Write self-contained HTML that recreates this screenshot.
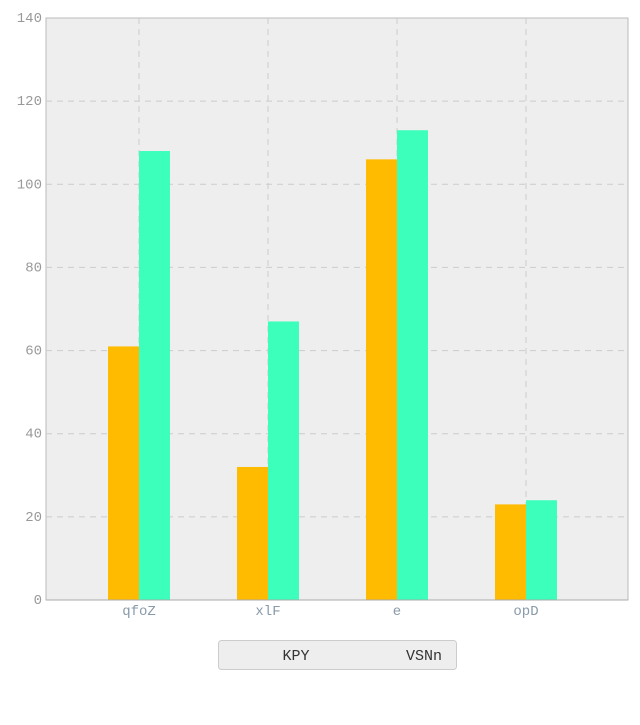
<!DOCTYPE html>
<html><head><meta charset="utf-8"><style>
body{margin:0;background:#fff;width:640px;height:720px;overflow:hidden;font-family:"Liberation Mono",monospace}
</style></head><body>
<svg id="chart" width="640" height="720" xmlns="http://www.w3.org/2000/svg"></svg>
<script>
const categories=["qfoZ","xlF","e","opD"];
const seriesNames=["KPY","VSNn"];
const seriesKPY=[61,32,106,23];
const seriesVSNn=[108,67,113,24];
const yTicks=[0,20,40,60,80,100,120,140];
const colors=["#FFBB00","#3BFFBA"];
const L=46,R=628,T=18,B=600,yMax=140;
const y=v=>B-(v/yMax)*(B-T);
const xc=i=>L+93+i*129;
const bw=31;
const NS="http://www.w3.org/2000/svg";
const svg=document.getElementById('chart');
function mk(tag,attrs,parent){const e=document.createElementNS(NS,tag);for(const k in attrs)e.setAttribute(k,attrs[k]);(parent||svg).appendChild(e);return e;}
const bg=mk('rect',{x:L,y:T,width:R-L,height:B-T,fill:'#EEEEEE',stroke:'#BBBBBB'});


yTicks.forEach(t=>{
  if(t>0&&t<yMax){const g=mk('line',{x1:L,x2:R,y1:y(t),y2:y(t),stroke:'#CCCCCC','stroke-dasharray':'6,5'});
  
  }
  const tx=mk('text',{x:L-4,y:y(t)+4,'text-anchor':'end','font-size':'14',fill:'#999999'});
  tx.textContent=t;
  
  
});
categories.forEach((c,i)=>{
  const g=mk('line',{x1:xc(i),x2:xc(i),y1:T,y2:B,stroke:'#CCCCCC','stroke-dasharray':'6,5'});
  
  
  [seriesKPY,seriesVSNn].forEach((s,k)=>{
    const b=mk('rect',{x:k===0?xc(i)-bw:xc(i),y:y(s[i]),width:bw,height:B-y(s[i]),fill:colors[k]});
    
    
  });
  const tx=mk('text',{x:xc(i),y:B+15,'text-anchor':'middle','font-size':'14',fill:'#8899AA'});
  tx.textContent=c;
  
  
});
const ax=mk('line',{x1:L,x2:R,y1:B,y2:B,stroke:'#AAAAAA'});


const lg=mk('g',{});


mk('rect',{x:218.5,y:640.5,width:238,height:29,rx:3,fill:'#EEEEEE',stroke:'#CCCCCC'},lg);
[[296,seriesNames[0]],[424,seriesNames[1]]].forEach(([x,n])=>{
  const t=mk('text',{x:x,y:660,'text-anchor':'middle','font-size':'15',fill:'#333333'},lg);
  t.textContent=n;
  
  
});
</script>
</body></html>
